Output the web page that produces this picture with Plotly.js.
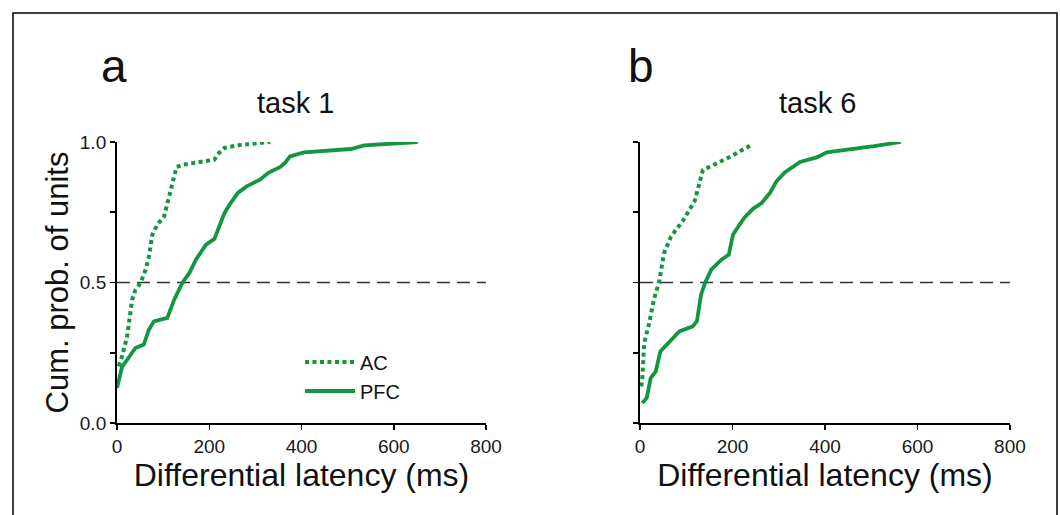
<!DOCTYPE html>
<html>
<head>
<meta charset="utf-8">
<script src="https://cdn.plot.ly/plotly-3.0.1.min.js"></script>
<style>
  html, body { margin: 0; padding: 0; background: #ffffff; }
  #chart { width: 1060px; height: 515px; }
</style>
</head>
<body>
<div id="chart"></div>
<script>
// ---- data ----
const panelLetters = ['a', 'b'];
const panelTitles = ['task 1', 'task 6'];
const seriesNames = ['AC', 'PFC'];
const xTickVals = [0, 200, 400, 600, 800];
const xTickText = ['0', '200', '400', '600', '800'];
const yTickVals = [0, 0.25, 0.5, 0.75, 1.0];
const yTickText = ['0.0', '', '0.5', '', '1.0'];
const xAxisTitle = 'Differential latency (ms)';
const yAxisTitle = 'Cum. prob. of units';
const xRange = [0, 800];
const refLevel = 0.5;

// task 1 (panel a)
const acT1x  = [3.6, 10.9, 21.9, 32.8, 40.1, 51, 62, 69.3, 76.5, 87.5, 102, 113, 124, 129, 142, 179, 211, 222, 233, 266, 303, 332];
const acT1y  = [0.202, 0.237, 0.308, 0.439, 0.474, 0.498, 0.546, 0.593, 0.670, 0.706, 0.735, 0.807, 0.890, 0.911, 0.919, 0.928, 0.937, 0.963, 0.979, 0.989, 0.994, 1.0];
const pfcT1x = [0, 11, 40, 58, 69, 80, 109, 124, 142, 157, 171, 193, 211, 233, 244, 262, 281, 310, 328, 354, 364, 375, 405, 507, 536, 652];
const pfcT1y = [0.125, 0.200, 0.267, 0.279, 0.332, 0.362, 0.374, 0.439, 0.500, 0.534, 0.581, 0.635, 0.655, 0.747, 0.777, 0.819, 0.842, 0.866, 0.890, 0.911, 0.925, 0.949, 0.963, 0.975, 0.988, 1.0];

// task 6 (panel b)
const acT6x  = [3, 5, 9, 20, 30, 41, 52, 67, 92, 118, 136, 168, 197, 241];
const acT6y  = [0.130, 0.160, 0.285, 0.356, 0.440, 0.500, 0.605, 0.664, 0.718, 0.789, 0.900, 0.925, 0.949, 0.990];
const pfcT6x = [5, 14.5, 23, 34, 44, 85, 114, 123, 132, 141, 154, 176, 192, 201, 208, 225, 245, 263, 281, 295, 313, 331, 346, 382, 404, 506, 564];
const pfcT6y = [0.071, 0.089, 0.160, 0.184, 0.255, 0.326, 0.344, 0.362, 0.457, 0.500, 0.546, 0.581, 0.599, 0.670, 0.688, 0.730, 0.763, 0.783, 0.819, 0.860, 0.892, 0.911, 0.929, 0.945, 0.963, 0.985, 1.0];

// ---- styles ----
const green = '#12963f';
const font = 'Liberation Sans, Arial, Helvetica, sans-serif';
const acLine = { color: green, width: 4, dash: '4px,3.5px' };
const pfcLine = { color: green, width: 3.8 };
const refLine = { color: '#333333', width: 1.4, dash: '13px,7px' };

const traces = [
  { x: xRange, y: [refLevel, refLevel], xaxis: 'x', yaxis: 'y', mode: 'lines', line: refLine, showlegend: false, hoverinfo: 'skip' },
  { x: xRange, y: [refLevel, refLevel], xaxis: 'x2', yaxis: 'y2', mode: 'lines', line: refLine, showlegend: false, hoverinfo: 'skip' },
  { x: acT1x, y: acT1y, xaxis: 'x', yaxis: 'y', mode: 'lines', name: seriesNames[0], line: acLine },
  { x: pfcT1x, y: pfcT1y, xaxis: 'x', yaxis: 'y', mode: 'lines', name: seriesNames[1], line: pfcLine },
  { x: acT6x, y: acT6y, xaxis: 'x2', yaxis: 'y2', mode: 'lines', name: seriesNames[0], line: acLine, showlegend: false },
  { x: pfcT6x, y: pfcT6y, xaxis: 'x2', yaxis: 'y2', mode: 'lines', name: seriesNames[1], line: pfcLine, showlegend: false }
];

const xCommon = {
  range: xRange, showline: true, linewidth: 2, linecolor: '#000', mirror: false,
  ticks: 'outside', ticklen: 5, tickwidth: 1.5, tickcolor: '#000',
  tickvals: xTickVals, ticktext: xTickText,
  tickfont: { family: font, size: 19, color: '#1a1a1a' },
  showgrid: false, zeroline: false, fixedrange: true,
  title: { text: xAxisTitle, font: { family: font, size: 32, color: '#111' }, standoff: 8 }
};
const yCommon = {
  range: [0, 1], showline: true, linewidth: 2, linecolor: '#000',
  ticks: 'outside', ticklen: 5, tickwidth: 1.5, tickcolor: '#000',
  tickvals: yTickVals, ticktext: yTickText,
  tickfont: { family: font, size: 19, color: '#1a1a1a' },
  showgrid: false, zeroline: false, fixedrange: true
};

const layout = {
  width: 1060, height: 515,
  margin: { l: 0, r: 0, t: 0, b: 0 },
  paper_bgcolor: '#ffffff', plot_bgcolor: '#ffffff',
  font: { family: font, color: '#111' },
  xaxis: Object.assign({}, xCommon, { domain: [0.1104, 0.4585], anchor: 'y' }),
  yaxis: Object.assign({}, yCommon, { domain: [0.1786, 0.7243], anchor: 'x',
    title: { text: yAxisTitle, font: { family: font, size: 31, color: '#111' }, standoff: 2 } }),
  xaxis2: Object.assign({}, xCommon, { domain: [0.6038, 0.9528], anchor: 'y2' }),
  yaxis2: Object.assign({}, yCommon, { domain: [0.1786, 0.7243], anchor: 'x2', showticklabels: false }),
  showlegend: true,
  legend: {
    x: 0.283, y: 0.335, xanchor: 'left', yanchor: 'top',
    bgcolor: 'rgba(0,0,0,0)', borderwidth: 0,
    font: { family: font, size: 20, color: '#111' },
    tracegroupgap: 0, itemwidth: 50
  },
  shapes: [
    { type: 'rect', xref: 'paper', yref: 'paper', x0: 0.01226, x1: 0.99717, y0: -0.05, y1: 0.9748,
      line: { color: '#000', width: 1.5 }, fillcolor: 'rgba(0,0,0,0)' }
  ],
  annotations: [
    { text: panelLetters[0], xref: 'paper', yref: 'paper', x: 0.108, y: 0.872, xanchor: 'center', yanchor: 'middle', showarrow: false, font: { family: font, size: 46, color: '#111' } },
    { text: panelLetters[1], xref: 'paper', yref: 'paper', x: 0.605, y: 0.872, xanchor: 'center', yanchor: 'middle', showarrow: false, font: { family: font, size: 46, color: '#111' } },
    { text: panelTitles[0], xref: 'x domain', yref: 'paper', x: 0.485, y: 0.80, xanchor: 'center', yanchor: 'middle', showarrow: false, font: { family: font, size: 29, color: '#111' } },
    { text: panelTitles[1], xref: 'x2 domain', yref: 'paper', x: 0.48, y: 0.80, xanchor: 'center', yanchor: 'middle', showarrow: false, font: { family: font, size: 29, color: '#111' } }
  ]
};

Plotly.newPlot('chart', traces, layout, { staticPlot: true, displayModeBar: false });
</script>
</body>
</html>
